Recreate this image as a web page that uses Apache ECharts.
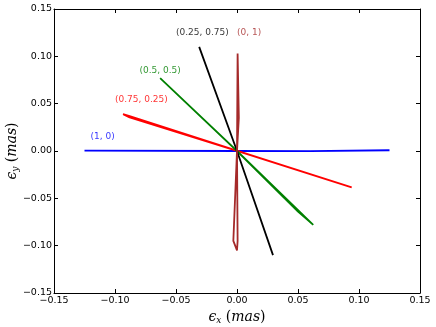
<!DOCTYPE html>
<html lang="en">
<head>
    <meta charset="UTF-8">
    <title>Chart</title>
    <script src="https://cdn.jsdelivr.net/npm/echarts@6/dist/echarts.min.js"></script>
</head>
<body style="margin:0;background:#fff;">
<div id="chartContainer" style="width:436px;height:327px;"></div>
<script type="text/javascript">
    // each track as [x, y] in mas
    var track10 = [[-0.125, 0.0004], [0, 0], [0.06, -0.0002], [0.125, 0.0008]];
    var track7525 = [[-0.0934, 0.039], [-0.088, 0.0355], [0, 0], [0.094, -0.0385], [0.003, -0.0008], [-0.088, 0.0368], [-0.0934, 0.039]];
    var track55 = [[-0.063, 0.077], [0, 0], [0.0625, -0.078], [0.05, -0.064], [0, 0]];
    var track2575 = [[-0.031, 0.110], [0, 0], [0.0295, -0.110]];
    var track01 = [[0, 0], [0.0015, 0.035], [0.0005, 0.103], [-0.0005, 0.103], [0, 0], [-0.003, -0.095], [0, -0.105], [0.0005, -0.095], [0, 0]];

    var labelNames = ['(1, 0)', '(0.75, 0.25)', '(0.5, 0.5)', '(0.25, 0.75)', '(0, 1)'];
    var labelPos = [[-0.12, 0.01], [-0.10, 0.05], [-0.08, 0.08], [-0.05, 0.12], [0, 0.12]];
    var colors = ['#0000ff', '#ff0000', '#008000', '#000000', '#a52a2a'];
    var tracks = [track10, track7525, track55, track2575, track01];

    var ticks = [-0.15, -0.10, -0.05, 0.00, 0.05, 0.10, 0.15];

    function fmt(v) {
        return v.toFixed(2).replace('-', '\u2212');
    }

    var chart = echarts.init(document.getElementById('chartContainer'));
    var font = 'DejaVu Sans';

    var axisCommon = {
        type: 'value',
        min: ticks[0],
        max: ticks[ticks.length - 1],
        interval: 0.05,
        splitLine: {show: false},
        axisLine: {show: true, onZero: false, lineStyle: {color: '#000', width: 1}},
        axisTick: {show: true, inside: true, length: 4, lineStyle: {color: '#000'}},
    };

    var series = [];
    tracks.forEach(function (t, i) {
        series.push({
            type: 'line',
            data: t,
            showSymbol: false,
            symbol: 'none',
            lineStyle: {color: colors[i], width: 1.8},
            z: 2 + i,
            animation: false
        });
    });
    // text labels next to each track
    series.push({
        type: 'scatter',
        symbolSize: 0,
        data: labelPos.map(function (p, i) {
            return {
                value: p,
                label: {
                    show: true,
                    formatter: labelNames[i],
                    color: colors[i],
                    position: [0, 0],
                    align: 'left',
                    verticalAlign: 'bottom',
                    fontFamily: font,
                    fontSize: 9
                }
            };
        }),
        animation: false,
        z: 10
    });

    var nameRich = {
        e: {fontFamily: 'DejaVu Serif', fontStyle: 'italic', fontSize: 14, color: '#000'},
        s: {fontFamily: 'DejaVu Serif', fontStyle: 'italic', fontSize: 9, color: '#000', verticalAlign: 'bottom', padding: [6, 0, 0, 0]},
        n: {fontFamily: 'DejaVu Serif', fontSize: 14, color: '#000'},
        i: {fontFamily: 'DejaVu Serif', fontStyle: 'italic', fontSize: 14, color: '#000'}
    };

    var option = {
        animation: false,
        grid: {left: 54, right: 16, top: 9, bottom: 34, containLabel: false, outerBoundsMode: 'none'},
        xAxis: [
            Object.assign({}, axisCommon, {
                position: 'bottom',
                name: '{e|\u03f5}{s|x}{n| (}{i|mas}{n|)}',
                nameLocation: 'middle',
                nameGap: 17,
                nameMoveOverlap: false,
                nameTextStyle: {rich: nameRich},
                axisLabel: {formatter: fmt, color: '#000', fontFamily: font, fontSize: 9.5, margin: 3, showMinLabel: true, showMaxLabel: true}
            }),
            Object.assign({}, axisCommon, {position: 'top', axisLabel: {show: false}})
        ],
        yAxis: [
            Object.assign({}, axisCommon, {
                position: 'left',
                name: '{e|\u03f5}{s|y}{n| (}{i|mas}{n|)}',
                nameLocation: 'middle',
                nameGap: 34,
                nameMoveOverlap: false,
                nameTextStyle: {rich: nameRich},
                axisLabel: {formatter: fmt, color: '#000', fontFamily: font, fontSize: 9.5, margin: 2, showMinLabel: true, showMaxLabel: true}
            }),
            Object.assign({}, axisCommon, {position: 'right', axisLabel: {show: false}})
        ],
        series: series
    };
    chart.setOption(option);
</script>
</body>
</html>
